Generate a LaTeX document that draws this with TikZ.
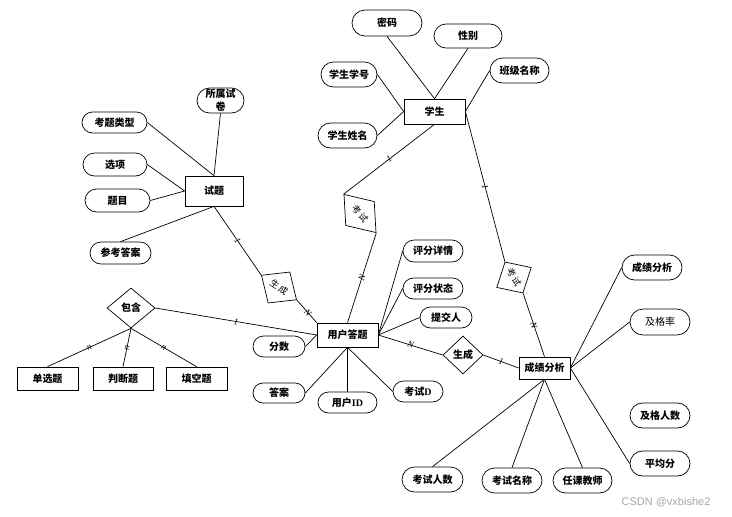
\documentclass[tikz,border=0pt]{standalone}
\usepackage{fontspec}
\setmainfont{Liberation Serif}
\newfontfamily\cjk{Noto Sans CJK SC}
\newfontfamily\wm{Liberation Sans}
\usetikzlibrary{shapes.geometric,shapes.misc}
\begin{document}
\begin{tikzpicture}[x=1pt,y=-1pt,
  line width=0.7pt,
  ent/.style={draw, rectangle, inner sep=0pt, font=\cjk\bfseries\fontsize{10}{12}\selectfont},
  attr/.style={draw, rounded rectangle, inner sep=0pt, font=\cjk\bfseries\fontsize{10}{12}\selectfont},
  rel/.style={draw, diamond, inner sep=0pt, font=\cjk\bfseries\fontsize{10}{12}\selectfont},
  rrel/.style={draw, diamond, inner sep=0pt, font=\cjk\fontsize{9}{11}\selectfont},
  card/.style={midway, sloped, inner sep=0pt, font=\itshape\fontsize{9}{10}\selectfont}
]
\useasboundingbox (0,0) rectangle (732,517);
% entities
\node[ent, minimum width=61, minimum height=25] (xs) at (434.5,111.5) {学生};
\node[ent, minimum width=58, minimum height=30] (st) at (214,191) {试题};
\node[ent, minimum width=61, minimum height=24] (yh) at (347.5,335) {用户答题};
\node[ent, minimum width=51, minimum height=22] (cj) at (544.5,368) {成绩分析};
\node[ent, minimum width=61, minimum height=23] (dx) at (47.5,378.5) {单选题};
\node[ent, minimum width=60, minimum height=23] (pd) at (123,378.5) {判断题};
\node[ent, minimum width=61, minimum height=23] (tk) at (196.5,378.5) {填空题};
% attributes of 学生
\node[attr, minimum width=70, minimum height=26] (mm) at (387,23) {密码};
\node[attr, minimum width=68, minimum height=24] (xb) at (468,36) {性别};
\node[attr, minimum width=56, minimum height=25] (xh) at (349,74.5) {学生学号};
\node[attr, minimum width=59, minimum height=25] (bj) at (519.5,70.5) {班级名称};
\node[attr, minimum width=59, minimum height=25] (xm) at (347.5,135.5) {学生姓名};
% attributes of 试题
\node[attr, minimum width=47, minimum height=25, align=center,
      font=\cjk\bfseries\fontsize{10}{13}\selectfont] (ss) at (220.5,100.5) {所属试\\卷};
\node[attr, minimum width=65, minimum height=21] (lx) at (114.5,122.5) {考题类型};
\node[attr, minimum width=64, minimum height=23] (xx) at (115,164.5) {选项};
\node[attr, minimum width=65, minimum height=23] (tm) at (117.5,200.5) {题目};
\node[attr, minimum width=61, minimum height=22] (ck) at (120.5,253) {参考答案};
% attributes of 用户答题
\node[attr, minimum width=60, minimum height=22] (xq) at (433,251) {评分详情};
\node[attr, minimum width=60, minimum height=21] (zt) at (433,288.5) {评分状态};
\node[attr, minimum width=52, minimum height=21] (tj) at (446,317.5) {提交人};
\node[attr, minimum width=52, minimum height=21] (fs) at (279,346.5) {分数};
\node[attr, minimum width=52, minimum height=20] (da) at (279,393) {答案};
\node[attr, minimum width=59, minimum height=21] (uid) at (347.5,402.5) {用户{\rmfamily ID}};
\node[attr, minimum width=50, minimum height=21] (ksd) at (418,391.5) {考试{\rmfamily D}};
% attributes of 成绩分析
\node[attr, minimum width=60, minimum height=25] (cjfx) at (652,267.5) {成绩分析};
\node[attr, minimum width=60, minimum height=26, font=\cjk\fontsize{10}{12}\selectfont] (jgl) at (660,322) {及格率};
\node[attr, minimum width=60, minimum height=25] (jgrs) at (660,415.5) {及格人数};
\node[attr, minimum width=60, minimum height=25] (pjf) at (660,463.5) {平均分};
\node[attr, minimum width=61, minimum height=25] (ksrs) at (432.5,479.5) {考试人数};
\node[attr, minimum width=60, minimum height=25] (ksmc) at (512,480.5) {考试名称};
\node[attr, minimum width=59, minimum height=25] (rkjs) at (582.5,480.5) {任课教师};
% relationships
\node[rel, minimum width=48, minimum height=40, aspect=1.2] (bh) at (131,308) {包含};
\node[rel, minimum width=40, minimum height=38] (sc2) at (463,355) {生成};
\node[rrel, minimum width=43, minimum height=38, rotate=-35] (sc1) at (279,287.5) {生\hspace{1.5pt}成};
\node[rrel, minimum width=50, minimum height=37.5, rotate=-50] (ks1) at (360,213.5) {考\hspace{1.5pt}试};
\node[rrel, minimum width=36, minimum height=40, rotate=-60] (ks2) at (514,277.5) {考\hspace{1.5pt}试};
% connectors: 学生
\draw (mm.south) -- (xs.north);
\draw (xb.south) -- (xs.north);
\draw (xh.east) -- (xs.west);
\draw (xm.east) -- (xs.west);
\draw (bj.west) -- (xs.east);
\draw (xs.south) -- node[card] {1} (ks1.west);
\draw (ks1.east) -- node[card] {N} (yh.north);
\draw (xs.east) -- node[card] {1} (ks2.west);
\draw (ks2.east) -- node[card] {N} (cj.north);
% 试题
\draw (ss.south) -- (st.north);
\draw (lx.east) -- (st.north);
\draw (xx.east) -- (st.west);
\draw (tm.east) -- (st.west);
\draw (ck.north) -- (st.south);
\draw (st.south) -- node[card] {1} (sc1.west);
\draw (sc1.east) -- node[card, pos=0.55] {N} (yh.north west);
% 包含
\draw (bh.east) -- node[card] {1} (yh.west);
\draw (bh.south) -- node[card] {n} (dx.north);
\draw (bh.south) -- node[card] {n} (pd.north);
\draw (bh.south) -- node[card] {n} (tk.north);
% 用户答题
\draw (xq.west) -- (yh.east);
\draw (zt.west) -- (yh.east);
\draw (tj.west) -- (yh.east);
\draw (fs.east) -- (yh.west);
\draw (da.east) -- (yh.south);
\draw (uid.north) -- (yh.south);
\draw (ksd.west) -- (yh.south);
\draw (yh.east) -- node[card] {N} (sc2.west);
\draw (sc2.east) -- node[card] {1} (cj.west);
% 成绩分析
\draw (cjfx.west) -- (cj.east);
\draw (jgl.west) -- (cj.east);
\draw (pjf.west) -- (cj.east);
\draw (ksrs.north) -- (cj.south);
\draw (ksmc.north) -- (cj.south);
\draw (rkjs.north) -- (cj.south);
% watermark
\node[text=black!35, font=\wm\fontsize{11}{13}\selectfont, inner sep=0pt] (wmk) at (666,502) {CSDN @vxbishe2};
\end{tikzpicture}
\end{document}
